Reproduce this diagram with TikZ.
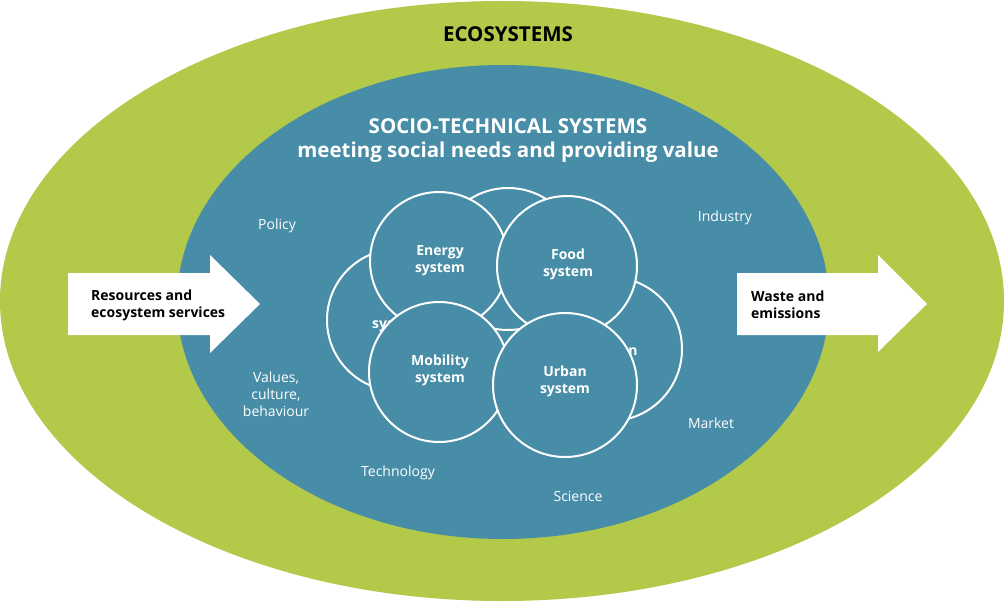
\documentclass[tikz,border=0pt]{standalone}
\usepackage{fontspec}
\setmainfont{Open Sans}
\definecolor{eco}{RGB}{178,201,74}
\definecolor{sts}{RGB}{72,141,167}
\begin{document}
\begin{tikzpicture}[x=1pt,y=-1pt,
  sysc/.style={circle, draw=white, line width=2pt, fill=sts, inner sep=0pt},
  systxt/.style={text=white, font=\fontsize{14}{17}\selectfont\bfseries, align=center, inner sep=0pt},
  factor/.style={text=white, font=\fontsize{14}{17}\selectfont, align=center, inner sep=0pt},
  arrowtxt/.style={text=black, font=\fontsize{14}{17}\selectfont\bfseries, align=left, inner sep=0pt, anchor=west},
  bigarrow/.style={fill=white, draw=none}]
\useasboundingbox (0,0) rectangle (1004,602);
\fill[white] (0,0) rectangle (1004,602);
% ellipses
\fill[eco] (502,301) ellipse [x radius=502, y radius=300];
\fill[sts] (503,302) ellipse [x radius=326, y radius=237];
% titles
\node[font=\fontsize{20.5}{24}\selectfont\bfseries, text=black] (eco) at (508,34) {ECOSYSTEMS};
\node[font=\fontsize{20.5}{24}\selectfont\bfseries, text=white, align=center, inner sep=0pt] (stt) at (508,141) {SOCIO-TECHNICAL SYSTEMS\\meeting social needs and providing value};
% arrows
\fill[bigarrow] (68,273) -- (210,273) -- (210,255) -- (260,304) -- (210,353) -- (210,335) -- (68,335) -- cycle;
\fill[bigarrow] (737,273) -- (878,273) -- (878,255) -- (927,304) -- (878,352) -- (878,335) -- (737,335) -- cycle;
\node[arrowtxt] (res) at (91,305) {Resources and\\ecosystem services};
\node[arrowtxt] (waste) at (751,305) {Waste and\\emissions};
% factors
\node[factor] (policy) at (277,226) {Policy};
\node[factor] (industry) at (725,218) {Industry};
\node[factor] (values) at (276,394) {Values,\\culture,\\behaviour};
\node[factor] (tech) at (398,473) {Technology};
\node[factor] (science) at (578,496) {Science};
\node[factor] (market) at (711,423) {Market};
% back circles
\node[sysc, minimum size=142pt] (cTop) at (508,259) {};
\node[sysc, minimum size=142pt] (cLeft) at (398,320) {};
\node[systxt, anchor=west] (tLeft) at (372,326) {system};
\node[sysc, minimum size=144pt] (cRight) at (610,349) {};
\node[systxt] (tRight) at (633,352) {n};
% front circles
\node[sysc, minimum size=138pt] (cEnergy) at (439,261) {};
\node[systxt] (tEnergy) at (440,261) {Energy\\system};
\node[sysc, minimum size=140pt] (cFood) at (567,266) {};
\node[systxt] (tFood) at (568,264) {Food\\system};
\node[sysc, minimum size=140pt] (cMob) at (439,372) {};
\node[systxt] (tMob) at (440,370) {Mobility\\system};
\node[sysc, minimum size=144pt] (cUrban) at (565,385) {};
\node[systxt] (tUrban) at (565,381) {Urban\\system};
\end{tikzpicture}
\end{document}
